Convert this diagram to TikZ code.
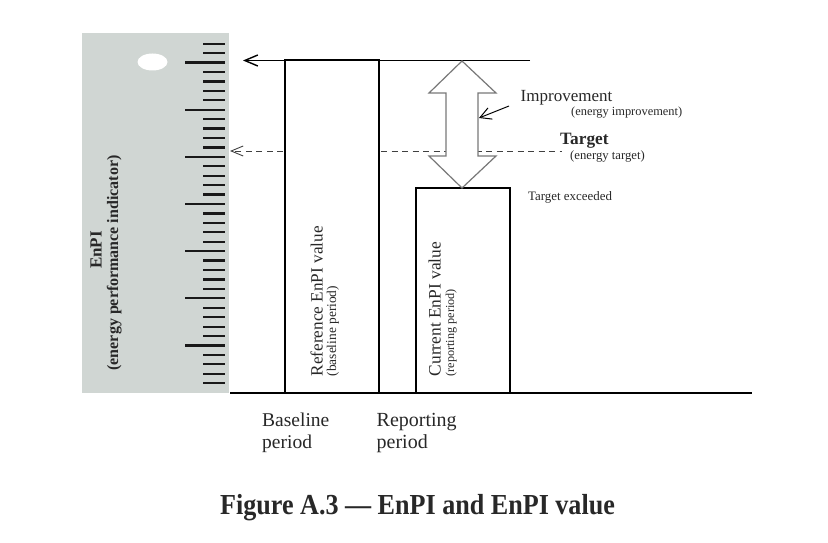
\documentclass[tikz,border=0pt]{standalone}
\usepackage{fontspec}
\setmainfont{Liberation Serif}
\usetikzlibrary{arrows.meta}
\definecolor{panel}{RGB}{208,214,211}
\definecolor{txt}{RGB}{40,40,40}
\definecolor{arrgray}{RGB}{120,120,120}
\tikzset{
  ln/.style={line width=1.4pt, black},
  tickmark/.style={fill=black!90},
  dsh/.style={line width=0.9pt, black!75, dash pattern=on 6pt off 4.5pt},
  boxnode/.style={draw=black, line width=1.6pt, fill=white, inner sep=0pt, minimum width=94pt},
  lbl/.style={inner sep=0pt, text=txt},
  barb/.style={-{Straight Barb[length=13pt,width=11pt]}},
}
\newcommand{\fs}[1]{\fontsize{#1}{#1}\selectfont}
\begin{document}
\begin{tikzpicture}[x=1pt,y=-1pt]
\useasboundingbox (0,0) rectangle (828,543);
\fill[white] (0,0) rectangle (828,543);
% ruler panel
\fill[panel] (82,33) rectangle (229,393);
\fill[white] (152.5,62) ellipse (15 and 8.5);
\foreach \i in {0,...,36}{
  \pgfmathsetmacro\ya{43.7+9.43*\i-1.1}
  \pgfmathsetmacro\yb{43.7+9.43*\i+1.1}
  \pgfmathtruncatemacro\m{mod(\i,5)}
  \ifnum\m=2
    \fill[tickmark] (185,\ya) rectangle (225,\yb);
  \else
    \fill[tickmark] (203,\ya) rectangle (225,\yb);
  \fi
}
\node[lbl, rotate=90, anchor=base, font=\fs{17}\bfseries] (enpi) at (101.5,250) {EnPI};
\node[lbl, rotate=90, anchor=base, font=\fs{16}\bfseries] (enpisub) at (118,263) {(energy performance indicator)};
% boxes
\node[boxnode, minimum height=333pt] (ref) at (332,226.5) {};
\node[boxnode, minimum height=205pt] (cur) at (463,290.5) {};
% base line
\coordinate (baseL) at (230,393);
\coordinate (baseR) at (752,393);
\draw[ln] (baseL) -- (baseR);
% top line
\coordinate (topR) at (530,60.5);
\coordinate (topL) at (243,60.5);
\draw[ln, barb] (topR) -- (topL);
% target dashed
\coordinate (tgtL) at (230,151);
\coordinate (tgtA) at (283,151);
\coordinate (tgtB) at (381,151);
\coordinate (tgtR) at (562,151);
\draw[dsh, -{Straight Barb[length=12pt,width=10pt]}] (tgtA) -- (tgtL);
\draw[dsh] (tgtB) -- (tgtR);
% double arrow
\draw[arrgray, fill=white, line width=1.2pt, line join=miter]
  (462,61) -- (496,93) -- (478,93) -- (478,156) -- (496,156) -- (462,188)
  -- (429,156) -- (446,156) -- (446,93) -- (429,93) -- cycle;
% improvement pointer
\coordinate (impS) at (509,106);
\coordinate (impE) at (479,118);
\draw[line width=1pt, black, -{Straight Barb[length=11pt,width=12pt]}] (impS) -- (impE);
% labels
\node[lbl, anchor=base west, font=\fs{17}] (improv) at (520.5,101.7) {Improvement};
\node[lbl, anchor=base west, font=\fs{12.4}] (improvsub) at (571,116) {(energy improvement)};
\node[lbl, anchor=base west, font=\fs{17.3}\bfseries] (target) at (560,144) {Target};
\node[lbl, anchor=base west, font=\fs{12.7}] (targetsub) at (570,159) {(energy target)};
\node[lbl, anchor=base west, font=\fs{12.9}] (exceeded) at (528,200) {Target exceeded};
% rotated box labels
\node[lbl, rotate=90, anchor=base west, font=\fs{17.2}] (reftxt) at (322.5,376.5) {Reference EnPI value};
\node[lbl, rotate=90, anchor=base west, font=\fs{13.4}] (refsub) at (336,376.5) {(baseline period)};
\node[lbl, rotate=90, anchor=base west, font=\fs{17.4}] (curtxt) at (440.5,376.5) {Current EnPI value};
\node[lbl, rotate=90, anchor=base west, font=\fs{12.2}] (cursub) at (454,376.5) {(reporting period)};
% period labels
\node[lbl, anchor=base west, font=\fs{19.5}] (bl1) at (262,426) {Baseline};
\node[lbl, anchor=base west, font=\fs{19.5}] (bl2) at (262,448.5) {period};
\node[lbl, anchor=base west, font=\fs{20}] (rp1) at (376.5,426) {Reporting};
\node[lbl, anchor=base west, font=\fs{20}] (rp2) at (376.5,448.5) {period};
% caption
\node[lbl, anchor=base west, font=\fs{29}\bfseries] (caption) at (220,514) {\scalebox{0.9}[1]{Figure A.3 — EnPI and EnPI value}};
\end{tikzpicture}
\end{document}
